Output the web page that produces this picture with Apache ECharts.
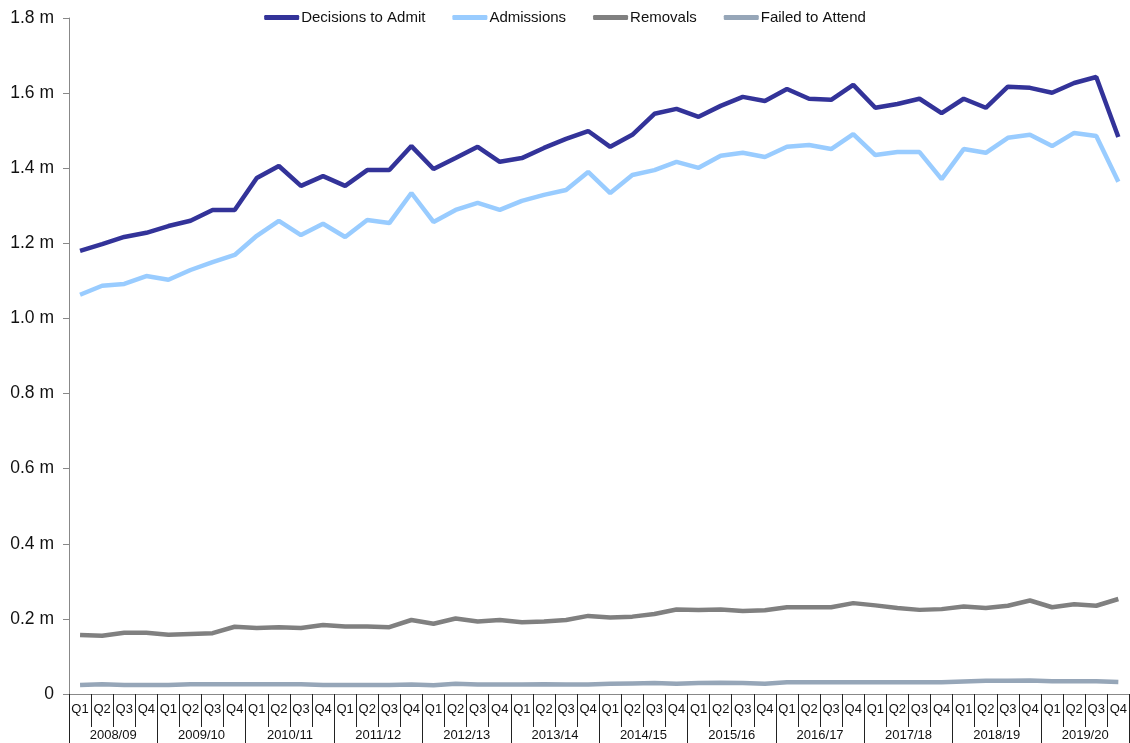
<!DOCTYPE html>
<html>
<head>
<meta charset="utf-8">
<script src="https://cdn.jsdelivr.net/npm/echarts@6/dist/echarts.min.js"></script>
<style>html,body{margin:0;padding:0;background:#fff}#c{width:1130px;height:743px}</style>
</head>
<body>
<div id="c"></div>
<script>
var years = ['2008/09','2009/10','2010/11','2011/12','2012/13','2013/14','2014/15','2015/16','2016/17','2017/18','2018/19','2019/20'];
var quarterNames = ['Q1','Q2','Q3','Q4'];
var yTicks = [0,0.2,0.4,0.6,0.8,1.0,1.2,1.4,1.6,1.8];

// values in millions
var decisionsToAdmit = [1.180,1.198,1.217,1.228,1.246,1.260,1.289,1.289,1.374,1.406,1.353,1.379,1.353,1.395,1.395,1.459,1.398,1.427,1.457,1.417,1.427,1.454,1.478,1.499,1.457,1.489,1.545,1.558,1.537,1.566,1.590,1.579,1.611,1.585,1.582,1.622,1.561,1.571,1.585,1.547,1.585,1.561,1.617,1.614,1.601,1.627,1.643,1.483];
var admissions = [1.063,1.087,1.092,1.113,1.103,1.129,1.150,1.169,1.220,1.260,1.222,1.252,1.217,1.262,1.254,1.334,1.257,1.289,1.308,1.289,1.313,1.329,1.342,1.390,1.334,1.382,1.395,1.417,1.401,1.433,1.441,1.430,1.457,1.462,1.451,1.491,1.435,1.443,1.443,1.371,1.451,1.441,1.481,1.489,1.459,1.494,1.486,1.364];
var removals = [0.157,0.155,0.163,0.163,0.158,0.160,0.162,0.179,0.176,0.178,0.176,0.184,0.180,0.180,0.178,0.197,0.187,0.201,0.193,0.197,0.191,0.193,0.197,0.208,0.204,0.206,0.213,0.225,0.224,0.225,0.221,0.223,0.231,0.231,0.231,0.242,0.236,0.229,0.224,0.226,0.233,0.229,0.235,0.249,0.231,0.239,0.235,0.253];
var failedToAttend = [0.024,0.026,0.024,0.024,0.024,0.026,0.026,0.026,0.026,0.026,0.026,0.024,0.024,0.024,0.024,0.025,0.023,0.027,0.025,0.025,0.025,0.026,0.025,0.025,0.027,0.028,0.029,0.027,0.029,0.030,0.029,0.027,0.031,0.031,0.031,0.031,0.031,0.031,0.031,0.031,0.033,0.035,0.035,0.036,0.034,0.034,0.034,0.032];

var quarters = [];
years.forEach(function(){ quarterNames.forEach(function(q){ quarters.push(q); }); });

var chart = echarts.init(document.getElementById('c'));
var font = 'Liberation Sans, Arial, sans-serif';
function line(name, data, color) {
  return { name: name, type: 'line', data: data, symbol: 'none', xAxisIndex: 0,
    lineStyle: { width: 4.5, color: color }, itemStyle: { color: color }, emphasis: { disabled: true } };
}
chart.setOption({
  animation: false,
  backgroundColor: '#fff',
  textStyle: { fontFamily: font },
  legend: {
    top: 5, left: 'center', itemWidth: 35, itemHeight: 5, itemGap: 27, icon: 'roundRect',
    textStyle: { fontSize: 15, color: '#111', fontFamily: font, padding: [0, 0, 0, -3] },
    data: ['Decisions to Admit', 'Admissions', 'Removals', 'Failed to Attend']
  },
  grid: { left: 69, right: 0, top: 18, bottom: 49, containLabel: false },
  xAxis: [
    { type: 'category', data: quarters, boundaryGap: true,
      axisLine: { lineStyle: { color: '#888', width: 1 } },
      axisTick: { show: true, interval: 0, length: 33, lineStyle: { color: '#222' } },
      axisLabel: { interval: 0, color: '#111', fontSize: 13, margin: 9, fontFamily: font },
      splitLine: { show: false } },
    { type: 'category', data: years, position: 'bottom', offset: 33, boundaryGap: true,
      axisLine: { show: false },
      axisTick: { show: true, interval: 0, length: 18, lineStyle: { color: '#222' } },
      axisLabel: { interval: 0, color: '#111', fontSize: 13, margin: 2, fontFamily: font },
      splitLine: { show: false } }
  ],
  yAxis: {
    type: 'value', min: 0, max: 1.8, interval: 0.2,
    axisLine: { show: true, lineStyle: { color: '#888' } },
    axisTick: { show: true, length: 6, lineStyle: { color: '#888' } },
    splitLine: { show: false },
    axisLabel: { color: '#111', fontSize: 17.5, margin: 15, fontFamily: font,
      formatter: function(v){ return v === 0 ? '0' : v.toFixed(1) + ' m'; } }
  },
  series: [
    line('Decisions to Admit', decisionsToAdmit, '#333399'),
    line('Admissions', admissions, '#99CCFF'),
    line('Removals', removals, '#808080'),
    line('Failed to Attend', failedToAttend, '#96A6B8')
  ]
});
</script>
</body>
</html>
